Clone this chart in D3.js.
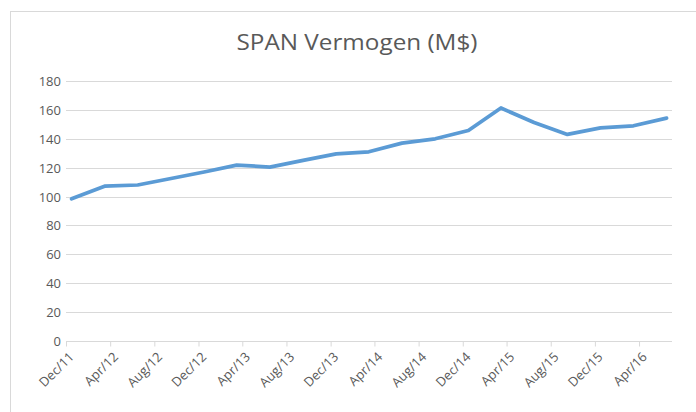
<!DOCTYPE html>
<html>
<head>
<meta charset="utf-8">
<script src="https://cdn.jsdelivr.net/npm/d3@7"></script>
<style>
  body { margin: 0; background: #fff; }
  text { font-family: "Open Sans", "Liberation Sans", sans-serif; fill: #595959; }
</style>
</head>
<body>
<svg id="chart" width="696" height="412"></svg>
<script>
// Data: quarterly values, month of each point
const months = ["2011-12", "2012-03", "2012-06", "2012-09", "2012-12", "2013-03", "2013-06",
    "2013-09", "2013-12", "2014-03", "2014-06", "2014-09", "2014-12", "2015-03",
    "2015-06", "2015-09", "2015-12", "2016-03", "2016-06"];
const values = [98.4, 107.2, 108, 112.5, 117, 121.8, 120.4, 125, 129.5, 131,
    137, 140, 145.7, 161.3, 151.3, 143, 147.5, 149, 154.3];
const tickLabels = ["Dec/11", "Apr/12", "Aug/12", "Dec/12", "Apr/13", "Aug/13", "Dec/13",
    "Apr/14", "Aug/14", "Dec/14", "Apr/15", "Aug/15", "Dec/15", "Apr/16"];
const yTicks = [0, 20, 40, 60, 80, 100, 120, 140, 160, 180];

const svg = d3.select("#chart");
const parse = d3.timeParse("%Y-%m");

// chart frame
svg.append("rect")
    .attr("x", 10.5).attr("y", 11.5)
    .attr("width", 720).attr("height", 420)
    .attr("fill", "#fff")
    .attr("stroke", "#d9d9d9");

// date axis: Dec 2011 through end of Jun 2016, points sit mid-month
const start = parse("2011-12");
const end = parse("2016-07");
const x = d3.scaleTime().domain([start, end]).range([66, 672]);
const y = d3.scaleLinear().domain([0, 180]).range([341, 81]);

const mid = d => new Date(+d + (+d3.timeMonth.offset(d, 1) - +d) / 2);

// gridlines
svg.append("g").selectAll("line")
    .data(yTicks)
    .enter().append("line")
    .attr("x1", 66).attr("x2", 672)
    .attr("y1", d => Math.round(y(d)) + 0.5)
    .attr("y2", d => Math.round(y(d)) + 0.5)
    .attr("stroke", "#d9d9d9")
    .attr("stroke-width", 1);

// y labels
svg.append("g").selectAll("text")
    .data(yTicks)
    .enter().append("text")
    .attr("x", 61)
    .attr("y", d => y(d) + 5)
    .attr("text-anchor", "end")
    .attr("font-size", 13)
    .text(d => d);

// x ticks every 4 months
const tickDates = tickLabels.map((t, i) => d3.timeMonth.offset(start, i * 4));
const xAxis = d3.axisBottom(x)
    .tickValues(tickDates)
    .tickSize(5)
    .tickFormat((d, i) => tickLabels[i]);

const gx = svg.append("g")
    .attr("transform", "translate(0," + (Math.round(y(0)) + 0.5) + ")")
    .call(xAxis);
gx.select(".domain").attr("stroke", "#d9d9d9").attr("d", "M66,0H672");
gx.selectAll(".tick line").attr("stroke", "#d9d9d9");
gx.selectAll(".tick text")
    .attr("font-family", "\"Open Sans\", sans-serif")
    .attr("font-size", 13)
    .attr("fill", "#595959")
    .attr("text-anchor", "end")
    .attr("transform", "translate(5,13) rotate(-45)")
    .attr("dy", "0.35em")
    .attr("y", 0);

// line
const line = d3.line()
    .x((d, i) => x(mid(parse(months[i]))))
    .y(d => y(d));

svg.append("path")
    .datum(values)
    .attr("d", line)
    .attr("fill", "none")
    .attr("stroke", "#5b9bd5")
    .attr("stroke-width", 3.75)
    .attr("stroke-linejoin", "round")
    .attr("stroke-linecap", "round");

// title
svg.append("text")
    .attr("x", 357)
    .attr("y", 50)
    .attr("text-anchor", "middle")
    .attr("font-size", 21)
    .attr("textLength", 241)
    .attr("lengthAdjust", "spacingAndGlyphs")
    .text("SPAN Vermogen (M$)");
</script>
</body>
</html>
